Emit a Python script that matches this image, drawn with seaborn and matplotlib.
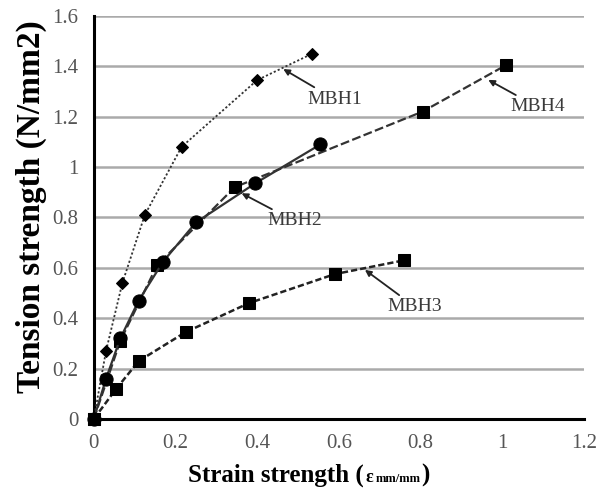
import matplotlib
matplotlib.use("Agg")
import matplotlib.pyplot as plt
import seaborn as sns
import pandas as pd

# ---- data ----
mbh1_x = [0, 0.03, 0.07, 0.125, 0.215, 0.40, 0.535]
mbh1_y = [0, 0.27, 0.54, 0.81, 1.08, 1.345, 1.45]

mbh2_x = [0, 0.03, 0.065, 0.11, 0.17, 0.25, 0.395, 0.555]
mbh2_y = [0, 0.16, 0.32, 0.47, 0.625, 0.78, 0.935, 1.09]

mbh3_x = [0, 0.055, 0.11, 0.225, 0.38, 0.59, 0.76]
mbh3_y = [0, 0.12, 0.23, 0.345, 0.46, 0.575, 0.63]

mbh4_x = [0, 0.065, 0.155, 0.345, 0.805, 1.01]
mbh4_y = [0, 0.31, 0.61, 0.92, 1.22, 1.405]

x_ticks = [0, 0.2, 0.4, 0.6, 0.8, 1, 1.2]
x_tick_labels = ["0", "0.2", "0.4", "0.6", "0.8", "1", "1.2"]
y_ticks = [0, 0.2, 0.4, 0.6, 0.8, 1, 1.2, 1.4, 1.6]
y_tick_labels = ["0", "0.2", "0.4", "0.6", "0.8", "1", "1.2", "1.4", "1.6"]

labels = ["MBH1", "MBH2", "MBH3", "MBH4"]
label_tips = [(0.464, 1.389), (0.362, 0.896), (0.664, 0.592), (0.966, 1.346)]
label_text = [(0.522, 1.27), (0.424, 0.786), (0.720, 0.445), (1.019, 1.239)]

sns.set_style("white")
plt.rcParams["font.family"] = ["Liberation Serif", "DejaVu Serif"]

fig = plt.figure(figsize=(6.05, 4.98), dpi=100)
ax = fig.add_axes([0.155, 0.1586, 0.81, 0.8095])

series = [
    (mbh1_x, mbh1_y, "D", 6, (0, (1.2, 1.2)), "#333333", 1.3),
    (mbh4_x, mbh4_y, "s", 9, (0, (4, 1.5)), "#333333", 1.6),
    (mbh3_x, mbh3_y, "s", 9, (0, (2.5, 1.2)), "#222222", 1.8),
    (mbh2_x, mbh2_y, "o", 9.5, "-", "#333333", 1.6),
]
for xs, ys, mk, ms, ls, col, lw in series:
    df = pd.DataFrame({"x": xs, "y": ys})
    sns.lineplot(data=df, x="x", y="y", ax=ax, sort=False, estimator=None,
                 color=col, linewidth=lw, linestyle=ls, marker=mk,
                 markersize=ms, markerfacecolor="black",
                 markeredgecolor="black", zorder=3, clip_on=False)

for lab, tip, txt in zip(labels, label_tips, label_text):
    ax.annotate(lab, xy=tip, xytext=txt, ha="left", va="center",
                fontsize=14, color="#3a3a3a",
                arrowprops=dict(arrowstyle="-|>", color="#222222", lw=1.3,
                                mutation_scale=9, shrinkA=0, shrinkB=0))

ax.set_xlim(0, 1.2)
ax.set_ylim(0, 1.6)
ax.set_xticks(x_ticks)
ax.set_xticklabels(x_tick_labels)
ax.set_yticks(y_ticks)
ax.set_yticklabels(y_tick_labels)
ax.tick_params(axis="both", direction="out", length=5, width=1.8,
               color="black", labelsize=15, labelcolor="#555555", pad=6)
ax.yaxis.grid(True, color="#aaaaaa", linewidth=1.8)
ax.xaxis.grid(False)
ax.set_axisbelow(True)
for s in ["top", "right"]:
    ax.spines[s].set_visible(False)
for s in ["left", "bottom"]:
    ax.spines[s].set_color("black")
    ax.spines[s].set_linewidth(2.2)

ax.set_xlabel("")
ax.set_ylabel("")
fig.text(0.052, 0.585, "Tension strength (N/mm2)", rotation=90, ha="center",
         va="center", fontsize=24, fontweight="bold", color="black")

# x label composed of a main part and a smaller unit part
base_y = 0.032
fig.canvas.draw()
r = fig.canvas.get_renderer()
t1 = fig.text(0.311, base_y, "Strain strength (", ha="left", va="baseline",
              fontsize=18, fontweight="bold", color="black")
x1 = t1.get_window_extent(r).x1 / fig.bbox.width + 0.002
t2 = fig.text(x1, base_y, "\u03b5", ha="left", va="baseline", fontsize=13,
              fontweight="bold", color="black")
x2 = t2.get_window_extent(r).x1 / fig.bbox.width + 0.005
t3 = fig.text(x2, base_y, "mm/mm", ha="left", va="baseline", fontsize=9,
              fontweight="bold", color="black")
x3 = t3.get_window_extent(r).x1 / fig.bbox.width
fig.text(x3, base_y, ")", ha="left", va="baseline", fontsize=18,
         fontweight="bold", color="black")

fig.savefig("out.png", dpi=100)
